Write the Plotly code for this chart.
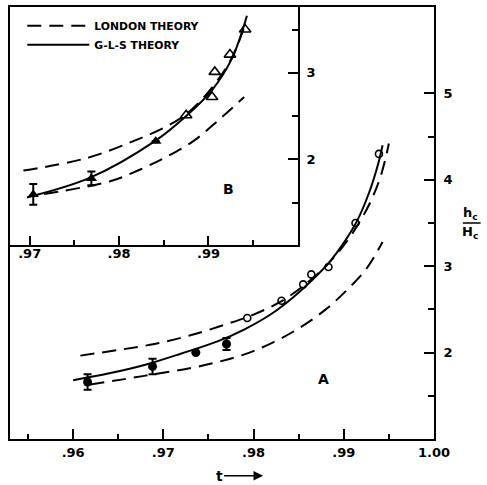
import plotly.graph_objects as go

# ---------------- Panel A (main) data ----------------
a_gls_t = [0.9600, 0.9640, 0.9680, 0.9720, 0.9760, 0.9790, 0.9820, 0.9845, 0.9865, 0.9885, 0.9900, 0.9915, 0.9928, 0.9938, 0.9943]
a_gls_y = [1.68, 1.76, 1.86, 1.99, 2.13, 2.27, 2.45, 2.65, 2.84, 3.06, 3.27, 3.53, 3.85, 4.18, 4.40]

a_lon_up_t = [0.9608, 0.9650, 0.9690, 0.9730, 0.9770, 0.9800, 0.9830, 0.9855, 0.9880, 0.9900, 0.9918, 0.9932, 0.9942, 0.9950]
a_lon_up_y = [1.965, 2.03, 2.10, 2.20, 2.33, 2.44, 2.59, 2.77, 3.00, 3.24, 3.52, 3.80, 4.08, 4.42]

a_lon_lo_t = [0.9619, 0.9655, 0.9690, 0.9725, 0.9760, 0.9790, 0.9820, 0.9850, 0.9880, 0.9905, 0.9925, 0.9943]
a_lon_lo_y = [1.63, 1.69, 1.75, 1.81, 1.89, 1.98, 2.11, 2.28, 2.50, 2.74, 2.97, 3.28]

a_fill_t = [0.9616, 0.9688, 0.9736, 0.9770]
a_fill_y = [1.66, 1.84, 2.00, 2.10]
a_fill_err = [0.09, 0.09, 0.0, 0.07]

a_open_t = [0.9793, 0.9831, 0.9855, 0.9864, 0.9883, 0.9913, 0.9939]
a_open_y = [2.40, 2.60, 2.79, 2.905, 2.99, 3.50, 4.30]

# ---------------- Panel B (inset) data ----------------
b_gls_t = [0.9697, 0.9767, 0.9840, 0.9876, 0.9904, 0.9926, 0.9943]
b_gls_y = [1.56, 1.785, 2.21, 2.51, 2.80, 3.16, 3.66]

b_lon_up_t = [0.9693, 0.9764, 0.9816, 0.9853, 0.9876, 0.9900, 0.9925, 0.9942]
b_lon_up_y = [1.87, 2.015, 2.21, 2.38, 2.53, 2.78, 3.15, 3.59]

b_lon_lo_t = [0.9716, 0.9790, 0.9823, 0.9853, 0.9883, 0.9912, 0.9940]
b_lon_lo_y = [1.60, 1.747, 1.88, 2.03, 2.21, 2.46, 2.72]

b_fill_t = [0.9704, 0.9769, 0.9841]
b_fill_y = [1.594, 1.78, 2.21]
b_fill_err = [0.12, 0.08, 0.0]

b_open_t = [0.9875, 0.9904, 0.9907, 0.9924, 0.9941]
b_open_y = [2.51, 2.72, 3.01, 3.21, 3.50]

# ---------------- ticks ----------------
a_xticks = [0.96, 0.97, 0.98, 0.99, 1.00]
a_xticktext = [".96", ".97", ".98", ".99", "1.00"]
a_xminor = [0.955, 0.965, 0.975, 0.985, 0.995]
a_yticks = [2, 3, 4, 5]
a_yticktext = ["2", "3", "4", "5"]
a_yminor = [1.5, 2.5, 3.5, 4.5]

b_xticks = [0.97, 0.98, 0.99]
b_xticktext = [".97", ".98", ".99"]
b_xminor = [0.975, 0.985, 0.995]
b_yticks = [2, 3]
b_yticktext = ["2", "3"]
b_yminor = [1.5, 2.5, 3.5]

FONT = "DejaVu Sans"
DASH = "14px,8px"
LW = 2

fig = go.Figure()

# Panel A curves
fig.add_trace(go.Scatter(x=a_lon_up_t, y=a_lon_up_y, mode="lines", line=dict(color="black", width=LW, dash=DASH, shape="spline"), showlegend=False, xaxis="x", yaxis="y"))
fig.add_trace(go.Scatter(x=a_lon_lo_t, y=a_lon_lo_y, mode="lines", line=dict(color="black", width=LW, dash=DASH, shape="spline"), showlegend=False, xaxis="x", yaxis="y"))
fig.add_trace(go.Scatter(x=a_gls_t, y=a_gls_y, mode="lines", line=dict(color="black", width=LW, shape="spline"), showlegend=False, xaxis="x", yaxis="y"))
fig.add_trace(go.Scatter(x=a_fill_t, y=a_fill_y, mode="markers", marker=dict(symbol="circle", size=9, color="black"),
                         error_y=dict(type="data", array=a_fill_err, visible=True, color="black", thickness=2, width=4),
                         showlegend=False, xaxis="x", yaxis="y"))
fig.add_trace(go.Scatter(x=a_open_t, y=a_open_y, mode="markers", marker=dict(symbol="circle-open", size=7, color="black", line=dict(width=1.6)),
                         showlegend=False, xaxis="x", yaxis="y"))

# Panel B curves (legend from these)
fig.add_trace(go.Scatter(x=b_lon_up_t, y=b_lon_up_y, mode="lines", name="LONDON THEORY", line=dict(color="black", width=LW, dash=DASH, shape="spline"), showlegend=True, xaxis="x2", yaxis="y2"))
fig.add_trace(go.Scatter(x=b_lon_lo_t, y=b_lon_lo_y, mode="lines", line=dict(color="black", width=LW, dash=DASH, shape="spline"), showlegend=False, xaxis="x2", yaxis="y2"))
fig.add_trace(go.Scatter(x=b_gls_t, y=b_gls_y, mode="lines", name="G-L-S THEORY", line=dict(color="black", width=LW, shape="spline"), showlegend=True, xaxis="x2", yaxis="y2"))
fig.add_trace(go.Scatter(x=b_fill_t, y=b_fill_y, mode="markers", marker=dict(symbol="triangle-up", size=10, color="black"),
                         error_y=dict(type="data", array=b_fill_err, visible=True, color="black", thickness=2, width=4),
                         showlegend=False, xaxis="x2", yaxis="y2"))
fig.add_trace(go.Scatter(x=b_open_t, y=b_open_y, mode="markers", marker=dict(symbol="triangle-up-open", size=10, color="black", line=dict(width=1.6)),
                         showlegend=False, xaxis="x2", yaxis="y2"))

tickfont = dict(family=FONT, size=13, color="black", weight="bold")

common = dict(showline=True, linecolor="black", linewidth=2, mirror=True, showgrid=False, zeroline=False,
              ticks="inside", tickcolor="black", tickwidth=2, tickmode="array", tickfont=tickfont)

fig.update_layout(
    width=487, height=485,
    margin=dict(l=10, r=53, t=5, b=46, pad=0),
    paper_bgcolor="white", plot_bgcolor="white",
    xaxis=dict(domain=[0, 1], anchor="y", range=[0.953, 1.0], tickvals=a_xticks, ticktext=a_xticktext, ticklen=10,
               minor=dict(tickmode="array", tickvals=a_xminor, ticks="inside", ticklen=5, tickwidth=2, tickcolor="black", showgrid=False),
               **common),
    yaxis=dict(domain=[0, 1], anchor="x", side="right", range=[1.0, 6.0], tickvals=a_yticks, ticktext=a_yticktext, ticklen=10,
               ticklabelstandoff=5,
               minor=dict(tickmode="array", tickvals=a_yminor, ticks="inside", ticklen=6, tickwidth=2, tickcolor="black", showgrid=False),
               **common),
    xaxis2=dict(domain=[0, 0.679], anchor="y2", range=[0.9678, 1.0], tickvals=b_xticks, ticktext=b_xticktext, ticklen=9,
                ticklabelstandoff=-5,
                minor=dict(tickmode="array", tickvals=b_xminor, ticks="inside", ticklen=5, tickwidth=2, tickcolor="black", showgrid=False),
                **common),
    yaxis2=dict(domain=[0.449, 1], anchor="x2", side="right", range=[1.01, 3.76], tickvals=b_yticks, ticktext=b_yticktext, ticklen=10,
                ticklabelstandoff=4,
                minor=dict(tickmode="array", tickvals=b_yminor, ticks="inside", ticklen=6, tickwidth=2, tickcolor="black", showgrid=False),
                **common),
    legend=dict(x=0.029, y=0.99, xanchor="left", yanchor="top", bgcolor="rgba(0,0,0,0)", itemwidth=62,
                font=dict(family=FONT, size=10.8, color="black", weight="bold"), tracegroupgap=0),
    showlegend=True,
)

# panel letters
fig.add_annotation(x=0.9877, y=1.69, xref="x", yref="y", text="A", showarrow=False,
                   font=dict(family=FONT, size=14, color="black", weight="bold"))
fig.add_annotation(x=0.9922, y=1.655, xref="x2", yref="y2", text="B", showarrow=False,
                   font=dict(family=FONT, size=14, color="black", weight="bold"))

# right-axis label h_c / H_c
fig.add_annotation(x=1.108, y=0.521, xref="paper", yref="paper", text="h<sub>c</sub>", showarrow=False,
                   font=dict(family=FONT, size=13, color="black", weight="bold"))
fig.add_annotation(x=1.108, y=0.479, xref="paper", yref="paper", text="H<sub>c</sub>", showarrow=False,
                   font=dict(family=FONT, size=13, color="black", weight="bold"))
fig.add_shape(type="line", xref="paper", yref="paper", x0=1.068, x1=1.110, y0=0.500, y1=0.500,
              line=dict(color="black", width=1.5))

# t -> label (text at the arrow tail)
fig.add_annotation(x=0.597, y=-0.085, xref="paper", yref="paper", ax=-44, ay=0, text="t",
                   showarrow=True, arrowhead=2, arrowsize=1.2, arrowwidth=1.6, arrowcolor="black", standoff=0,
                   font=dict(family=FONT, size=14, color="black", weight="bold"))

fig.write_html("out.html", config={"displayModeBar": False},
               post_script="document.body.style.margin='0';document.body.style.overflow='hidden';")
